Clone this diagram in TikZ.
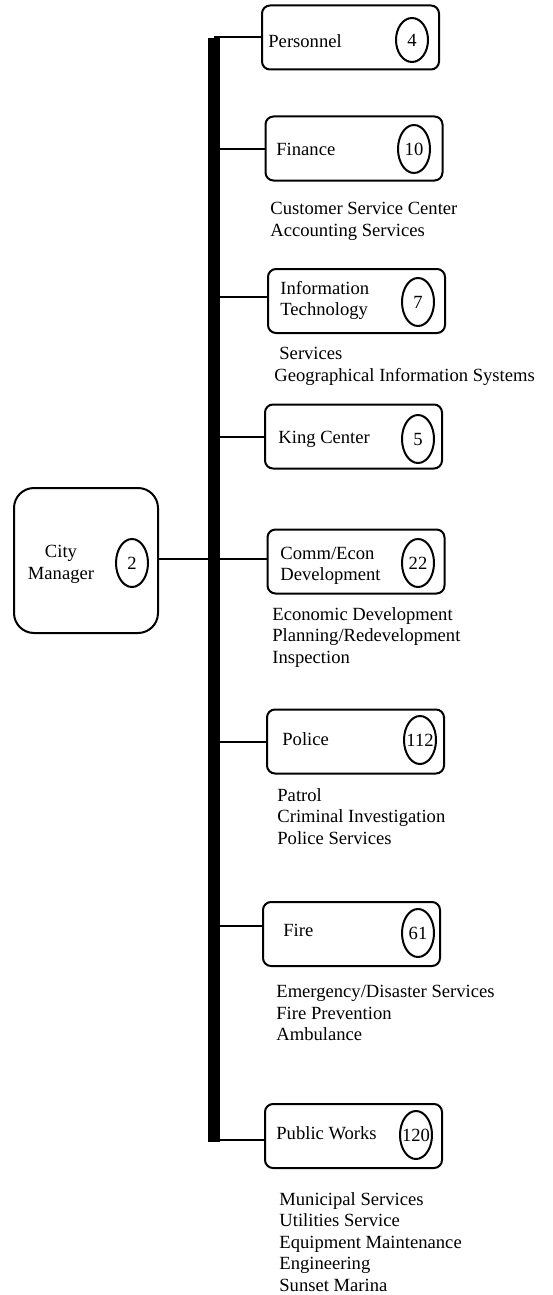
\documentclass[tikz,border=0pt]{standalone}
\usepackage{fontspec}
\setmainfont{Liberation Serif}
\usetikzlibrary{shapes.geometric}
\tikzset{
  dept/.style={draw,line width=1pt,rounded corners=4pt,minimum width=88.5pt,minimum height=32pt,inner sep=0pt},
  chief/.style={draw,line width=1pt,rounded corners=10pt,minimum width=72pt,minimum height=72.5pt,inner sep=0pt},
  cnt/.style={draw,ellipse,line width=1pt,minimum width=16pt,minimum height=24pt,inner sep=-2pt},
  lbl/.style={anchor=west,inner sep=0pt,align=left},
  duties/.style={anchor=north west,inner sep=0pt,align=left},
  link/.style={line width=1pt},
  spine/.style={line width=6pt}
}

\begin{document}
\begin{tikzpicture}[x=0.5pt,y=-0.5pt,font=\fontsize{9.3pt}{10.75pt}\selectfont]
\useasboundingbox (0,0) rectangle (552,1295);
\coordinate (top) at (214,38); \coordinate (bot) at (214,1142);
\draw[spine] (top) -- (bot);
% city manager
\node[chief] (citymgr) at (86,560.5) {};
\node[lbl,align=center,anchor=center] (citymgr-t) at (61,564.5) {City\\Manager};
\node[cnt] (citymgr-n) at (132,563) {2};
% departments
\node[dept] (personnel) at (350.5,37.5) {}; \node[lbl] (personnel-t) at (268,41) {Personnel};
\node[cnt,minimum height=22pt] (personnel-n) at (412,40) {4};
\node[dept] (finance) at (354,148.5) {}; \node[lbl] (finance-t) at (276,149) {Finance};
\node[cnt] (finance-n) at (414,149) {10};
\node[dept] (infotech) at (356.5,301) {}; \node[lbl] (infotech-t) at (280,300.5) {Information\\Technology};
\node[cnt] (infotech-n) at (418,302) {7};
\node[dept] (king) at (353.5,436.5) {}; \node[lbl] (king-t) at (278,439) {King Center};
\node[cnt] (king-n) at (418,439) {5};
\node[dept] (commecon) at (356,561.5) {}; \node[lbl] (commecon-t) at (280,566) {Comm/Econ\\Development};
\node[cnt] (commecon-n) at (418,563) {22};
\node[dept] (police) at (355.5,741.5) {}; \node[lbl] (police-t) at (282,739) {Police};
\node[cnt] (police-n) at (420,740) {112};
\node[dept] (fire) at (351.5,934) {}; \node[lbl] (fire-t) at (283,930) {Fire};
\node[cnt] (fire-n) at (418,933) {61};
\node[dept] (pubworks) at (353.5,1136) {}; \node[lbl] (pubworks-t) at (276,1133) {Public Works};
\node[cnt] (pubworks-n) at (416,1135) {120};
% duties under each box
\node[duties] (finance-d) at (270,202) {Customer Service Center\\Accounting Services};
\node[duties] (infotech-d) at (274,347) {\hspace{2.5pt}Services\\Geographical Information Systems};
\node[duties] (commecon-d) at (272,607) {Economic Development\\Planning/Redevelopment\\Inspection};
\node[duties] (police-d) at (277,788) {Patrol\\Criminal Investigation\\Police Services};
\node[duties] (fire-d) at (276,985) {Emergency/Disaster Services\\Fire Prevention\\Ambulance};
\node[duties] (pubworks-d) at (279,1192) {Municipal Services\\Utilities Service\\Equipment Maintenance\\Engineering\\Sunset Marina};
% connectors
\draw[link] ([yshift=1pt]citymgr.east) -- ([yshift=1pt]citymgr.east -| commecon.west);
\draw[link] (personnel.west) -- (personnel.west -| top);
\draw[link] (finance.west) -- (finance.west -| top);
\draw[link] ([yshift=2pt]infotech.west) -- ([yshift=2pt]infotech.west -| top);
\draw[link] (king.west) -- (king.west -| top);
\draw[link] (police.west) -- (police.west -| top);
\draw[link] ([yshift=4pt]fire.west) -- ([yshift=4pt]fire.west -| top);
\draw[link] ([yshift=-2pt]pubworks.west) -- ([yshift=-2pt]pubworks.west -| top);
\end{tikzpicture}
\end{document}
